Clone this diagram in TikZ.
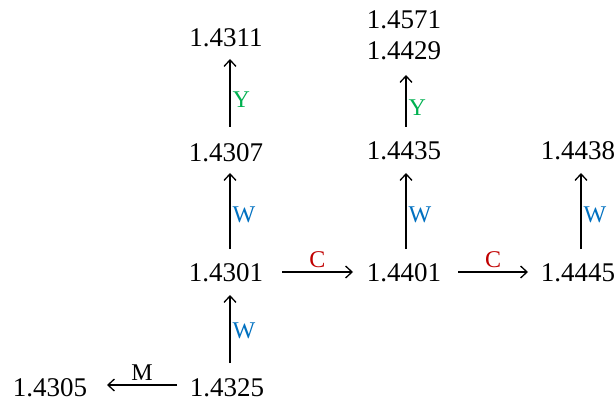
\documentclass[tikz,border=0pt]{standalone}
\usepackage{fontspec}
\setmainfont{Liberation Serif}
\usetikzlibrary{arrows.meta}
\definecolor{lblgreen}{RGB}{0,176,80}
\definecolor{lblblue}{RGB}{0,112,192}
\definecolor{lblred}{RGB}{192,0,0}
\tikzset{
  val/.style={inner sep=0pt, anchor=base, font=\fontsize{27}{30}\selectfont},
  arr/.style={line width=1.3pt, -{Straight Barb[length=6.5pt,width=12pt,line width=1.3pt]}},
  lbl/.style={inner sep=2pt, font=\fontsize{24}{26}\selectfont},
}
\begin{document}
\begin{tikzpicture}[x=1pt,y=-1pt]
\useasboundingbox (0,0) rectangle (616,401);
% values
\node[val] (n11) at (226,47) {1.4311};
\node[val] (n07) at (226,161) {1.4307};
\node[val] (n01) at (226,281) {1.4301};
\node[val] (n25) at (227,396) {1.4325};
\node[val] (n05) at (50,396) {1.4305};
\node[val] (n4571) at (404,29) {1.4571};
\node[val] (n29) at (404,60) {1.4429};
\node[val] (n35) at (404,160) {1.4435};
\node[val] (n401) at (404,281) {1.4401};
\node[val] (n38) at (578,160) {1.4438};
\node[val] (n45) at (578,281) {1.4445};
% column 1
\draw[arr] ([shift={(3,-33)}]n25.base) -- ([shift={(4,14)}]n01.base)
  node[lbl, pos=0.47, anchor=west, text=lblblue] {W};
\draw[arr] ([shift={(4,-32)}]n01.base) -- ([shift={(4,12)}]n07.base)
  node[lbl, pos=0.45, anchor=west, text=lblblue] {W};
\draw[arr] ([shift={(4,-34)}]n07.base) -- ([shift={(4,12)}]n11.base)
  node[lbl, pos=0.4, anchor=west, text=lblgreen] {Y};
% column 2
\draw[arr] ([shift={(2,-32)}]n401.base) -- ([shift={(2,13)}]n35.base)
  node[lbl, pos=0.45, anchor=west, text=lblblue] {W};
\draw[arr] ([shift={(2,-33)}]n35.base) -- ([shift={(2,15)}]n29.base)
  node[lbl, pos=0.38, anchor=west, text=lblgreen] {Y};
% column 3
\draw[arr] ([shift={(3,-32)}]n45.base) -- ([shift={(3,13)}]n38.base)
  node[lbl, pos=0.45, anchor=west, text=lblblue] {W};
% horizontal
\draw[arr] ([shift={(56,-9)}]n01.base) -- ([shift={(-51,-9)}]n401.base)
  node[lbl, midway, above, inner sep=4pt, text=lblred] {C};
\draw[arr] ([shift={(54,-9)}]n401.base) -- ([shift={(-50,-9)}]n45.base)
  node[lbl, midway, above, inner sep=4pt, text=lblred] {C};
\draw[arr] ([shift={(-50,-11)}]n25.base) -- ([shift={(57,-11)}]n05.base)
  node[lbl, midway, above, inner sep=4pt] {M};
\end{tikzpicture}
\end{document}
